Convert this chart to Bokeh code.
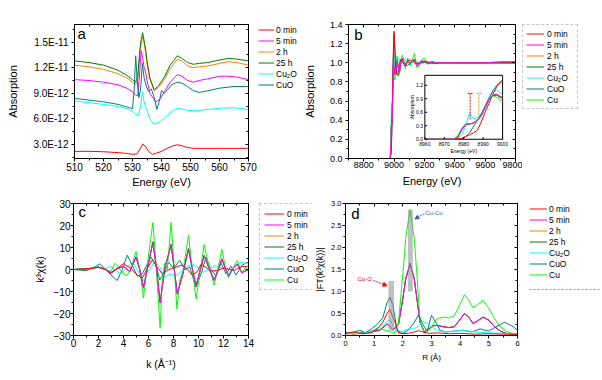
import math
from bokeh.plotting import figure
from bokeh.layouts import row, column
from bokeh.models import (LinearAxis, FixedTicker, Legend, LegendItem, Range1d,
                          Label, Arrow, NormalHead, PrintfTickFormatter, Span)
from bokeh.embed import file_html
from bokeh.resources import INLINE
from bokeh.core.properties import value

FONT = "Liberation Sans"

C_0MIN = "#FF0000"
C_5MIN = "#FF00FF"
C_2H = "#FF8000"
C_25H = "#008000"
C_CU2O = "#00FFFF"
C_CUO = "#008080"
C_CU = "#00FF00"
COLORS = [C_0MIN, C_5MIN, C_2H, C_25H, C_CU2O, C_CUO, C_CU]

series_names = ["0 min", "5 min", "2 h", "25 h", "Cu\u2082O", "CuO", "Cu"]

# ---------------- panel a : O K-edge (units of 1e-12) ----------------
a_yticks = [3, 6, 9, 12, 15]
a_ylabels = ["3.0E-12", "6.0E-12", "9.0E-12", "1.2E-11", "1.5E-11"]
a_xticks = [510, 520, 530, 540, 550, 560, 570]

a_e_0min = [510, 515, 520, 525, 528, 530, 531.5, 532.5, 533.5, 534.5, 535.5, 536.8, 538, 540, 542, 544, 545.5, 547, 549, 551, 555, 560, 565, 570]
a_v_0min = [2.2, 2.2, 2.15, 2.05, 1.95, 1.85, 1.9, 2.4, 3.05, 2.8, 2.2, 1.85, 1.95, 2.2, 2.55, 2.85, 2.97, 2.85, 2.65, 2.55, 2.55, 2.55, 2.55, 2.55]

a_e_25h = [510, 515, 520, 525, 528, 530, 531, 531.8, 532.5, 533.0, 533.5, 534.0, 534.5, 535, 536, 537.5, 539, 541, 543, 545.5, 547, 549, 551, 553, 556, 560, 563, 566, 570]
a_v_25h = [12.8, 12.6, 12.3, 11.7, 11.1, 10.6, 10.3, 10.9, 14.0, 15.3, 16.1, 15.2, 14.2, 12.8, 10.8, 9.4, 9.9, 10.9, 12.3, 13.4, 13.1, 12.6, 12.4, 12.5, 12.6, 12.9, 13.1, 13.0, 12.8]
a_v_2h = [12.3, 12.1, 11.8, 11.3, 10.8, 10.3, 10.0, 10.6, 13.5, 14.9, 15.6, 14.8, 13.8, 12.4, 10.6, 9.3, 9.7, 10.6, 11.9, 13.0, 12.8, 12.2, 12.0, 12.1, 12.2, 12.5, 12.7, 12.6, 12.3]

a_e_5min = [510, 515, 520, 525, 528, 530, 531, 531.8, 532.5, 533.0, 533.5, 534.0, 534.5, 535, 536, 538, 539.5, 541, 543, 545.5, 547, 549, 551, 553, 556, 560, 563, 566, 570]
a_v_5min = [10.6, 10.5, 10.3, 10.0, 9.6, 9.2, 8.8, 8.7, 11.5, 14.0, 13.2, 12.0, 11.5, 10.5, 9.0, 8.0, 8.3, 9.2, 10.3, 11.2, 11.0, 10.5, 10.3, 10.5, 10.7, 11.0, 11.0, 10.9, 10.6]

a_e_cu2o = [510, 515, 520, 525, 528, 530, 531, 532, 532.8, 533.4, 534, 535, 536, 537, 538, 540, 542, 544, 545.5, 547, 549, 552, 556, 560, 565, 570]
a_v_cu2o = [8.1, 7.9, 7.7, 7.45, 7.2, 6.9, 6.6, 6.35, 7.5, 9.2, 8.0, 7.0, 6.0, 5.5, 5.4, 5.8, 6.4, 7.0, 7.25, 7.15, 7.0, 6.95, 7.1, 7.25, 7.3, 7.1]

a_e_cuo = [510, 515, 520, 525, 528, 530, 530.6, 531.1, 531.6, 532.2, 532.8, 533.4, 534, 534.8, 535.5, 536.5, 537.5, 538.4, 539.2, 540, 541, 542, 543.5, 545.5, 547, 549, 551, 553, 556, 560, 565, 570]
a_v_cuo = [8.4, 8.2, 8.0, 7.7, 7.4, 7.2, 9.5, 13.4, 10.5, 8.5, 9.5, 12.5, 10.8, 9.8, 9.2, 9.5, 8.5, 7.1, 8.0, 9.3, 9.0, 9.4, 10.0, 10.3, 10.2, 9.8, 9.3, 9.1, 9.3, 9.6, 9.8, 9.8]

# ---------------- panel b : Cu K-edge XANES ----------------
b_xticks = [8800, 9000, 9200, 9400, 9600, 9800]
b_yticks = [0.0, 0.2, 0.4, 0.6, 0.8, 1.0, 1.2, 1.4]

b_e_0min = [8700, 8970, 8978, 8983, 8988, 8992, 8996, 9000, 9004, 9010, 9018, 9026, 9035, 9045, 9055, 9070, 9085, 9100, 9120, 9140, 9160, 9180, 9200, 9230, 9260, 9300, 9400, 9500, 9600, 9700, 9800]
b_v_0min = [0.0, 0.0, 0.03, 0.12, 0.45, 0.85, 1.15, 1.33, 1.2, 0.95, 0.88, 0.9, 0.98, 1.04, 1.02, 0.97, 1.0, 1.03, 1.02, 0.99, 1.0, 1.01, 1.02, 1.0, 0.99, 1.0, 1.0, 1.0, 1.0, 1.0, 1.0]

b_e_met = [8700, 8975, 8979, 8981, 8985, 8988, 8991, 8994, 8997, 9000, 9005, 9012, 9020, 9028, 9036, 9045, 9055, 9065, 9075, 9090, 9105, 9120, 9135, 9150, 9165, 9180, 9200, 9220, 9250, 9280, 9320, 9400, 9500, 9600, 9700, 9800]
b_v_5min = [0, 0.0, 0.12, 0.32, 0.36, 0.42, 0.65, 0.92, 1.0, 0.95, 0.88, 0.92, 1.02, 0.95, 0.9, 1.0, 1.05, 1.0, 0.96, 1.03, 0.99, 1.01, 1.04, 0.97, 0.98, 1.02, 1.01, 0.99, 1.01, 1.0, 1.0, 1.0, 1.0, 1.0, 1.01, 1.01]
b_v_2h = [0, 0.0, 0.12, 0.31, 0.36, 0.42, 0.64, 0.91, 0.99, 0.95, 0.88, 0.92, 1.02, 0.96, 0.9, 1.0, 1.05, 1.0, 0.96, 1.03, 0.99, 1.01, 1.04, 0.97, 0.98, 1.02, 1.01, 0.99, 1.01, 1.0, 1.0, 1.0, 1.0, 1.0, 1.0, 1.0]
b_v_25h = [0, 0.0, 0.13, 0.32, 0.36, 0.42, 0.64, 0.91, 0.98, 0.94, 0.87, 0.93, 1.03, 0.95, 0.9, 1.01, 1.05, 1.0, 0.96, 1.03, 0.99, 1.01, 1.04, 0.97, 0.98, 1.02, 1.01, 0.99, 1.01, 1.0, 1.0, 1.0, 1.0, 1.0, 1.0, 1.0]
b_v_cu = [0, 0.0, 0.14, 0.33, 0.36, 0.42, 0.63, 0.9, 0.95, 0.85, 0.82, 0.95, 1.07, 0.95, 0.88, 1.02, 1.08, 1.02, 0.94, 1.05, 0.97, 1.03, 1.1, 0.95, 0.97, 1.03, 1.05, 1.0, 1.01, 1.0, 1.0, 1.0, 1.0, 1.0, 1.01, 1.01]

b_e_cu2o = [8700, 8975, 8980, 8983, 8986, 8990, 8994, 8997, 9000, 9005, 9012, 9020, 9030, 9040, 9050, 9060, 9075, 9090, 9110, 9130, 9150, 9175, 9200, 9250, 9300, 9400, 9500, 9600, 9700, 9800]
b_v_cu2o = [0, 0.0, 0.3, 0.58, 0.45, 0.65, 0.98, 1.1, 1.02, 0.97, 0.95, 1.03, 1.05, 0.98, 0.96, 1.02, 1.04, 0.99, 0.98, 1.01, 1.02, 0.99, 1.0, 1.0, 1.0, 1.0, 1.0, 1.0, 1.0, 1.0]

b_e_cuo = [8700, 8975, 8980, 8984, 8988, 8991, 8995, 9000, 9005, 9010, 9018, 9026, 9035, 9045, 9055, 9070, 9090, 9110, 9130, 9150, 9180, 9220, 9260, 9300, 9400, 9500, 9600, 9700, 9800]
b_v_cuo = [0, 0.0, 0.05, 0.22, 0.5, 0.72, 1.05, 1.3, 1.15, 0.98, 0.88, 0.86, 0.92, 1.02, 1.04, 1.0, 0.97, 1.01, 1.02, 0.99, 1.0, 1.01, 1.0, 1.0, 1.0, 1.0, 1.0, 1.0, 1.0]

# inset of panel b (edge region)
in_xticks = [8960, 8970, 8980, 8990, 9000]
in_yticks = [0.0, 0.3, 0.6, 0.9, 1.2]
in_e = [8960, 8970, 8975, 8977, 8979, 8981, 8983, 8985, 8987, 8989, 8991, 8993, 8995, 8997, 9000]
in_0min = [0, 0, 0, 0.01, 0.02, 0.06, 0.1, 0.14, 0.2, 0.38, 0.6, 0.8, 1.0, 1.17, 1.3]
in_5min = [0, 0, 0, 0.06, 0.22, 0.33, 0.34, 0.36, 0.42, 0.52, 0.7, 0.88, 0.98, 1.0, 0.92]
in_2h = [0, 0, 0, 0.05, 0.21, 0.33, 0.34, 0.36, 0.42, 0.52, 0.7, 0.88, 0.98, 0.99, 0.91]
in_25h = [0, 0, 0, 0.05, 0.21, 0.32, 0.34, 0.36, 0.42, 0.53, 0.7, 0.88, 0.97, 0.98, 0.9]
in_cu2o = [0, 0, 0, 0.02, 0.1, 0.3, 0.58, 0.45, 0.48, 0.56, 0.72, 0.9, 1.05, 1.1, 0.98]
in_cuo = [0, 0, 0, 0.0, 0.02, 0.06, 0.14, 0.28, 0.42, 0.56, 0.74, 0.92, 1.08, 1.2, 1.32]
in_cu = [0, 0, 0, 0.08, 0.25, 0.34, 0.34, 0.36, 0.42, 0.52, 0.7, 0.88, 0.97, 0.93, 0.84]

# ---------------- panel c : k3 chi(k) ----------------
c_xticks = [0, 2, 4, 6, 8, 10, 12, 14]
c_yticks = [-30, -20, -10, 0, 10, 20, 30]

c_k_cu = [0, 0.5, 1.0, 1.5, 2.0, 2.5, 3.0, 3.3, 3.6, 4.0, 4.3, 4.6, 5.0, 5.3, 5.6, 5.9, 6.35, 6.6, 6.93, 7.1, 7.3, 7.5, 7.81, 8.05, 8.27, 8.5, 8.75, 9.2, 9.5, 9.81, 10.1, 10.45, 10.85, 11.25, 11.55, 11.87, 12.15, 12.4, 12.75, 13.1, 13.47, 13.75, 14.0]
c_v_cu = [0, 0.2, 0.3, 0.5, 1.0, 0.0, -1.0, 2.9, 1.0, -2.0, -2.7, 0.5, 8.2, 0.0, -13.0, 2.0, 21.4, 3.0, -26.7, -5.0, 2.9, 0.0, 21.4, 2.0, -18.0, -5.0, -1.0, 15.6, 0.0, -13.4, -2.0, 11.3, 1.0, -7.0, 0.0, 9.2, 1.0, -3.8, 0.5, 4.1, -1.7, 1.0, -0.5]

c_k_met = [0, 0.5, 1.0, 1.5, 2.0, 2.5, 3.0, 3.5, 4.0, 4.5, 5.0, 5.3, 5.6, 5.95, 6.35, 6.65, 6.93, 7.3, 7.81, 8.05, 8.3, 8.75, 9.2, 9.5, 9.81, 10.1, 10.45, 10.85, 11.25, 11.55, 11.87, 12.15, 12.4, 12.75, 13.1, 13.47, 14.0]
c_v_5min = [0, 0.1, 0.2, 0.6, 1.2, 0.2, -1.5, 0.5, 1.5, -1.0, 5.8, 0.0, -8.5, 1.5, 12.7, 0.0, -15.3, 0.5, 11.5, 0.5, -11.3, -2.0, 9.6, 0.5, -7.8, -1.0, 6.4, 0.5, -5.0, -0.5, 4.9, 0.5, -3.0, 0.5, 2.5, -1.5, 0.0]
c_v_2h = [0, 0.1, 0.2, 0.6, 1.1, 0.2, -1.4, 0.5, 1.4, -1.0, 5.5, 0.0, -8.2, 1.5, 12.2, 0.0, -14.8, 0.5, 11.1, 0.5, -10.9, -2.0, 9.3, 0.5, -7.5, -1.0, 6.2, 0.5, -4.8, -0.5, 4.7, 0.5, -2.9, 0.5, 2.4, -1.4, 0.0]
c_v_25h = [0, 0.1, 0.2, 0.6, 1.1, 0.2, -1.4, 0.5, 1.4, -1.0, 5.6, 0.0, -8.3, 1.5, 12.4, 0.0, -15.0, 0.5, 11.3, 0.5, -11.0, -2.0, 9.4, 0.5, -7.6, -1.0, 6.3, 0.5, -4.9, -0.5, 4.8, 0.5, -2.9, 0.5, 2.4, -1.4, 0.0]

c_k_0min = [0, 1.0, 1.5, 2.0, 2.5, 3.0, 3.5, 4.0, 4.6, 5.0, 5.5, 5.9, 6.3, 6.7, 7.1, 7.5, 8.0, 8.7, 9.1, 9.5, 9.9, 10.2, 10.6, 10.9, 11.5, 12.0, 12.5, 12.9, 13.5, 14.0]
c_v_0min = [0, 0.3, 0.6, 1.0, 0.2, -1.8, 0.5, 2.7, 0.5, -2.0, -4.0, 0.5, 4.4, 1.0, -2.0, -0.5, 0.8, 2.0, 0.0, -2.5, -1.0, 2.3, 1.0, -0.7, -0.5, 0.7, 0.0, -0.3, 1.5, 1.2]

c_k_cu2o = [0, 1.0, 1.5, 2.0, 2.5, 3.0, 3.7, 4.2, 4.7, 5.1, 5.6, 6.0, 6.5, 6.9, 7.3, 7.7, 8.2, 8.6, 9.0, 9.5, 9.9, 10.4, 10.9, 11.3, 11.9, 12.4, 12.9, 13.4, 14.0]
c_v_cu2o = [0, 0.2, 0.8, 1.2, 0.3, 1.5, -2.0, 0.5, 3.5, 0.0, -5.0, -1.0, 3.7, 1.0, -3.5, -2.0, -3.0, -1.0, 1.0, 2.6, 1.0, -1.2, 0.5, 1.8, 0.5, -1.5, 1.0, 3.3, 2.5]

c_k_cuo = [0, 1.0, 1.5, 2.1, 2.5, 3.0, 3.5, 3.9, 4.3, 4.7, 5.1, 5.5, 5.9, 6.2, 6.6, 6.9, 7.3, 7.6, 8.0, 8.5, 8.9, 9.3, 9.8, 10.2, 10.6, 11.0, 11.4, 11.8, 12.2, 12.6, 13.0, 13.5, 14.0]
c_v_cuo = [0, -0.5, 0.5, 2.6, 0.5, -2.5, -5.0, 0.0, 6.5, 2.0, -3.0, -2.0, 2.5, 5.6, 2.0, -4.7, -1.0, 3.3, 0.5, 4.1, 0.0, 1.0, -8.0, -2.0, 5.5, 0.0, -3.0, 3.0, -2.0, 1.5, -2.5, 2.0, 3.5]

# ---------------- panel d : |FT| ----------------
d_xticks = [0, 1, 2, 3, 4, 5, 6]
d_yticks = [0.0, 0.5, 1.0, 1.5, 2.0, 2.5, 3.0]

d_r_cu = [0, 0.3, 0.6, 0.9, 1.2, 1.5, 1.7, 1.85, 2.0, 2.1, 2.25, 2.4, 2.5, 2.6, 2.75, 2.9, 3.05, 3.2, 3.4, 3.6, 3.8, 3.95, 4.15, 4.3, 4.45, 4.6, 4.8, 5.0, 5.2, 5.4, 5.6, 5.8, 6.0]
d_v_cu = [0.05, 0.03, 0.06, 0.1, 0.15, 0.1, 0.05, 0.3, 1.4, 2.2, 2.86, 2.2, 1.3, 0.35, 0.05, 0.1, 0.25, 0.38, 0.42, 0.4, 0.45, 0.65, 0.93, 0.8, 0.63, 0.7, 0.8, 0.62, 0.38, 0.2, 0.1, 0.05, 0.02]

d_r_met = [0, 0.3, 0.6, 0.9, 1.2, 1.45, 1.65, 1.85, 2.0, 2.1, 2.25, 2.4, 2.5, 2.6, 2.75, 2.9, 3.05, 3.2, 3.4, 3.6, 3.8, 3.95, 4.15, 4.3, 4.45, 4.6, 4.8, 5.0, 5.2, 5.4, 5.6, 5.8, 6.0]
d_v_5min = [0.05, 0.04, 0.06, 0.08, 0.12, 0.27, 0.13, 0.25, 0.85, 1.3, 1.65, 1.3, 0.8, 0.3, 0.08, 0.15, 0.22, 0.23, 0.2, 0.18, 0.2, 0.33, 0.5, 0.42, 0.28, 0.33, 0.42, 0.35, 0.2, 0.1, 0.05, 0.03, 0.02]
d_v_2h = [0.05, 0.04, 0.06, 0.08, 0.12, 0.26, 0.13, 0.25, 0.83, 1.27, 1.61, 1.27, 0.78, 0.3, 0.08, 0.15, 0.22, 0.23, 0.2, 0.18, 0.2, 0.32, 0.49, 0.41, 0.27, 0.32, 0.41, 0.34, 0.2, 0.1, 0.05, 0.03, 0.02]
d_v_25h = [0.05, 0.04, 0.06, 0.08, 0.12, 0.26, 0.13, 0.25, 0.84, 1.28, 1.62, 1.28, 0.79, 0.3, 0.08, 0.15, 0.22, 0.23, 0.2, 0.18, 0.2, 0.32, 0.5, 0.42, 0.27, 0.33, 0.42, 0.35, 0.2, 0.1, 0.05, 0.03, 0.02]

d_r_0min = [0, 0.3, 0.6, 0.9, 1.1, 1.3, 1.45, 1.55, 1.7, 1.85, 2.0, 2.2, 2.4, 2.55, 2.7, 2.9, 3.2, 3.6, 4.0, 4.5, 5.0, 5.5, 6.0]
d_v_0min = [0.05, 0.08, 0.04, 0.06, 0.15, 0.3, 0.5, 0.59, 0.35, 0.06, 0.04, 0.05, 0.08, 0.11, 0.08, 0.05, 0.06, 0.04, 0.05, 0.03, 0.04, 0.03, 0.03]

d_r_cu2o = [0, 0.3, 0.6, 0.9, 1.2, 1.4, 1.55, 1.7, 1.85, 2.0, 2.2, 2.4, 2.55, 2.7, 2.85, 3.0, 3.2, 3.5, 3.8, 4.1, 4.5, 5.0, 5.5, 6.0]
d_v_cu2o = [0.03, 0.05, 0.04, 0.1, 0.2, 0.3, 0.35, 0.2, 0.05, 0.1, 0.15, 0.15, 0.22, 0.32, 0.28, 0.2, 0.12, 0.08, 0.1, 0.12, 0.08, 0.06, 0.05, 0.04]

d_r_cuo = [0, 0.3, 0.5, 0.7, 0.9, 1.1, 1.3, 1.45, 1.55, 1.65, 1.8, 2.0, 2.2, 2.4, 2.55, 2.7, 2.85, 3.0, 3.15, 3.3, 3.5, 3.8, 4.1, 4.4, 4.7, 5.0, 5.2, 5.4, 5.55, 5.7, 5.85, 6.0]
d_v_cuo = [0.05, 0.08, 0.12, 0.06, 0.15, 0.25, 0.4, 0.75, 0.87, 0.7, 0.12, 0.05, 0.12, 0.3, 0.47, 0.25, 0.1, 0.46, 0.3, 0.12, 0.08, 0.1, 0.12, 0.08, 0.15, 0.1, 0.18, 0.25, 0.3, 0.25, 0.2, 0.12]

# shell markers (Cu-O and Cu-Cu) in panel d
shell_left = [1.5, 2.18]
shell_right = [1.69, 2.35]
shell_bottom = [0.11, 1.0]
shell_top = [1.24, 2.86]

TOP_H, BOT_H = 190, 186
TOP_T, TOP_B = 24, 32      # frame borders shared by the top row
BOT_T, BOT_B = 13, 41      # frame borders shared by the bottom row


def make_panel(width, height, xr, yr, borders, xticks, xminor, yticks, yminor,
               xlabel, ylabel, tick_size, xtitle_size, ytitle_size,
               x_std, y_std, xt_std, yt_std, tick_len=3):
    l, r, t, b = borders
    p = figure(width=width, height=height, x_range=xr, y_range=yr,
               output_backend="svg", toolbar_location=None,
               min_border_left=l, min_border_right=r,
               min_border_top=t, min_border_bottom=b)
    p.xgrid.visible = False
    p.ygrid.visible = False
    p.outline_line_color = "black"
    p.background_fill_color = "white"
    p.border_fill_color = "white"
    xa = p.xaxis[0]
    ya = p.yaxis[0]
    for ax, tk, mn, lab, st, tst, tsz in ((xa, xticks, xminor, xlabel, x_std, xt_std, xtitle_size),
                                          (ya, yticks, yminor, ylabel, y_std, yt_std, ytitle_size)):
        ax.ticker = FixedTicker(ticks=tk, minor_ticks=mn)
        ax.axis_label = lab
        ax.axis_label_text_font = FONT
        ax.axis_label_text_font_size = tsz
        ax.axis_label_text_font_style = "normal"
        ax.axis_label_text_color = "black"
        ax.axis_label_standoff = tst
        ax.major_label_text_font = FONT
        ax.major_label_text_font_size = tick_size
        ax.major_label_text_color = "black"
        ax.major_label_standoff = st
        ax.major_tick_in = 0
        ax.major_tick_out = tick_len
        ax.minor_tick_in = 0
        ax.minor_tick_out = 2
        ax.axis_line_color = "black"
        ax.major_tick_line_color = "black"
        ax.minor_tick_line_color = "black"
    for place, tk, mn in (("above", xticks, xminor), ("right", yticks, yminor)):
        m = LinearAxis(ticker=FixedTicker(ticks=tk, minor_ticks=mn),
                       major_label_overrides={t: "" for t in tk},
                       major_label_text_font_size="1px", major_label_standoff=0,
                       major_tick_in=3, major_tick_out=0, minor_tick_in=2, minor_tick_out=0,
                       axis_line_color="black")
        p.add_layout(m, place)
    return p


def legend_fig(width, height, t, b, names, pad, glyph_w, standoff, label_w, border=False):
    """A blank strip beside a panel that carries that panel's legend."""
    f = figure(width=width, height=height, x_range=Range1d(0, 1),
               y_range=Range1d(0, height - t - b),
               output_backend="svg", toolbar_location=None,
               x_axis_type=None, y_axis_type=None,
               min_border_left=0, min_border_right=0, min_border_top=t, min_border_bottom=b)
    f.xgrid.visible = False
    f.ygrid.visible = False
    f.outline_line_color = None
    f.background_fill_color = "white"
    f.border_fill_color = "white"
    rs = [f.line(x=[math.nan], y=[math.nan], line_color=c, line_width=1) for c in COLORS[:len(names)]]
    leg = Legend(items=[LegendItem(label=n, renderers=[r]) for n, r in zip(names, rs)],
                 location="top_left", orientation="vertical",
                 label_text_font=FONT, label_text_font_size="8.5px",
                 label_text_color="black",
                 glyph_height=11, label_height=11, glyph_width=glyph_w,
                 label_standoff=standoff, label_width=label_w,
                 spacing=0, padding=pad, margin=0,
                 background_fill_color="white", background_fill_alpha=1.0,
                 border_line_color="#909090" if border else None,
                 border_line_dash="1 1", border_line_width=1)
    f.add_layout(leg)
    return f


def panel_letter(p, x, y, t):
    p.add_layout(Label(x=x, y=y, text=t, text_font=FONT, text_font_size="15px",
                       text_baseline="top", text_align="left", text_color="black"))


# ================= panel a =================
pa = make_panel(258, TOP_H, Range1d(510, 570), Range1d(1.36, 17.06), (74, 10, TOP_T, TOP_B),
                a_xticks, [515, 525, 535, 545, 555, 565], a_yticks, [1.5, 4.5, 7.5, 10.5, 13.5, 16.5],
                "Energy (eV)", "Absorption", "10px", "11px", "11px", 1, 3, 2, 11)
pa.yaxis[0].major_label_overrides = {t: s for t, s in zip(a_yticks, a_ylabels)}
pa.line(a_e_0min, a_v_0min, line_color=C_0MIN, line_width=1)
pa.line(a_e_25h, a_v_2h, line_color=C_2H, line_width=1)
pa.line(a_e_25h, a_v_25h, line_color=C_25H, line_width=1)
pa.line(a_e_5min, a_v_5min, line_color=C_5MIN, line_width=1)
pa.line(a_e_cu2o, a_v_cu2o, line_color=C_CU2O, line_width=1)
pa.line(a_e_cuo, a_v_cuo, line_color=C_CUO, line_width=1)
panel_letter(pa, 511.0, 17.0, "a")
la = legend_fig(42, TOP_H, TOP_T, TOP_B, series_names[:6], 2, 16, 2, 20)

# ================= panel b =================
pb = make_panel(222, TOP_H, Range1d(8700, 9800), Range1d(0, 1.4), (43, 7, TOP_T, TOP_B),
                b_xticks, [8700, 8900, 9100, 9300, 9500, 9700], b_yticks,
                [0.1, 0.3, 0.5, 0.7, 0.9, 1.1, 1.3],
                "Energy (eV)", "Absorption", "9px", "11px", "11px", 0, 3, 4, 11)
pb.yaxis[0].formatter = PrintfTickFormatter(format="%.1f")
pb.line(b_e_met, b_v_2h, line_color=C_2H, line_width=1)
pb.line(b_e_met, b_v_25h, line_color=C_25H, line_width=1)
pb.line(b_e_cu2o, b_v_cu2o, line_color=C_CU2O, line_width=1)
pb.line(b_e_cuo, b_v_cuo, line_color=C_CUO, line_width=1)
pb.line(b_e_met, b_v_cu, line_color=C_CU, line_width=1)
pb.line(b_e_0min, b_v_0min, line_color=C_0MIN, line_width=1)
pb.line(b_e_met, b_v_5min, line_color=C_5MIN, line_width=1)
panel_letter(pb, 8738, 1.385, "b")
lb = legend_fig(78, TOP_H, TOP_T, TOP_B, series_names, 3, 18, 3, 27, border=True)

# inset
ins = pb.subplot(x_source=Range1d(8960, 9000), y_source=Range1d(0, 1.42),
                 x_target=Range1d(9203, 9715), y_target=Range1d(0.201, 0.869))
ins.quad(left=[8960], right=[9000], bottom=[0], top=[1.42],
         fill_color="white", line_color="black", line_width=1)
for ys, col in ((in_2h, C_2H), (in_25h, C_25H), (in_cu2o, C_CU2O), (in_cuo, C_CUO),
                (in_cu, C_CU), (in_0min, C_0MIN), (in_5min, C_5MIN)):
    ins.line(in_e, ys, line_color=col, line_width=1)
ins.segment(x0=in_xticks, y0=[0] * len(in_xticks), x1=in_xticks, y1=[0.05] * len(in_xticks),
            line_color="black", line_width=1)
ins.segment(x0=[8960] * len(in_yticks), y0=in_yticks, x1=[8961.2] * len(in_yticks), y1=in_yticks,
            line_color="black", line_width=1)
ins.text(x=in_xticks, y=[-0.05] * len(in_xticks), text=[str(t) for t in in_xticks],
         text_font=value(FONT), text_font_size="5px", text_align="center", text_baseline="top",
         text_color="black")
ins.text(x=[8959] * len(in_yticks), y=in_yticks, text=["%.1f" % t for t in in_yticks],
         text_font=value(FONT), text_font_size="5px", text_align="right", text_baseline="middle",
         text_color="black")
ins.text(x=[8980], y=[-0.2], text=["Energy (eV)"], text_font=value(FONT), text_font_size="5px",
         text_align="center", text_baseline="top", text_color="black")
ins.text(x=[8953.5], y=[0.71], text=["Absorption"], text_font=value(FONT), text_font_size="5px",
         text_align="center", text_baseline="middle", angle=math.pi / 2, text_color="black")
ins.segment(x0=[8983.3, 8987.8], y0=[0.44, 0.48], x1=[8983.3, 8987.8], y1=[1.02, 1.02],
            line_color=[C_0MIN, "#C0A000"], line_dash="2 1", line_width=1)
ins.segment(x0=[8982, 8986.5], y0=[1.02, 1.02], x1=[8985, 8989.5], y1=[1.02, 1.02],
            line_color=[C_0MIN, "#C0A000"], line_dash="2 1", line_width=1)

# ================= panel c =================
pc = make_panel(259, BOT_H, Range1d(0, 14), Range1d(-30, 30), (73, 11, BOT_T, BOT_B),
                c_xticks, [1, 3, 5, 7, 9, 11, 13], c_yticks, [-25, -15, -5, 5, 15, 25],
                "k (\u00c5\u207b\u00b9)", "k\u00b3\u03c7(k)", "10px", "10.5px", "10.5px", 0, 0, 8, 5)
pc.line(c_k_met, c_v_2h, line_color=C_2H, line_width=1)
pc.line(c_k_met, c_v_25h, line_color=C_25H, line_width=1)
pc.line(c_k_cuo, c_v_cuo, line_color=C_CUO, line_width=1)
pc.line(c_k_cu2o, c_v_cu2o, line_color=C_CU2O, line_width=1)
pc.line(c_k_cu, c_v_cu, line_color=C_CU, line_width=1)
pc.line(c_k_met, c_v_5min, line_color=C_5MIN, line_width=1)
pc.line(c_k_0min, c_v_0min, line_color=C_0MIN, line_width=1)
panel_letter(pc, 0.4, 30.2, "c")
lc = legend_fig(53, BOT_H, BOT_T, BOT_B, series_names, 4, 20, 3, 19, border=True)

# ================= panel d =================
pd_ = make_panel(217, BOT_H, Range1d(0, 6), Range1d(0, 3.0), (29, 12, BOT_T, BOT_B),
                 d_xticks, [0.5, 1.5, 2.5, 3.5, 4.5, 5.5], d_yticks,
                 [0.25, 0.75, 1.25, 1.75, 2.25, 2.75],
                 "R (\u00c5)", "|FT(k\u00b3\u03c7(k))|", "7.5px", "8px", "9px", 2, 1, 4, 3)
pd_.yaxis[0].formatter = PrintfTickFormatter(format="%.1f")
pd_.line(d_r_met, d_v_2h, line_color=C_2H, line_width=1)
pd_.line(d_r_met, d_v_25h, line_color=C_25H, line_width=1)
pd_.line(d_r_met, d_v_5min, line_color=C_5MIN, line_width=1)
pd_.line(d_r_cu, d_v_cu, line_color=C_CU, line_width=1)
pd_.line(d_r_cuo, d_v_cuo, line_color=C_CUO, line_width=1)
pd_.line(d_r_cu2o, d_v_cu2o, line_color=C_CU2O, line_width=1)
pd_.line(d_r_0min, d_v_0min, line_color=C_0MIN, line_width=1)
pd_.quad(left=shell_left, right=shell_right, bottom=shell_bottom, top=shell_top,
         fill_color="#8c8c8c", fill_alpha=0.55, line_color=None)
pd_.add_layout(Arrow(end=NormalHead(size=4, line_color=C_0MIN, fill_color=C_0MIN),
                     x_start=0.98, y_start=1.25, x_end=1.45, y_end=1.13,
                     line_color=C_0MIN, line_dash="2 1", line_width=1))
pd_.add_layout(Arrow(end=NormalHead(size=4, line_color="#3a5fa8", fill_color="#3a5fa8"),
                     x_start=2.75, y_start=2.77, x_end=2.42, y_end=2.65,
                     line_color="#3a5fa8", line_dash="2 1", line_width=1))
pd_.add_layout(Label(x=0.42, y=1.29, text="Cu-O", text_font=FONT, text_font_size="6px",
                     text_color=C_0MIN, text_baseline="middle"))
pd_.add_layout(Label(x=2.78, y=2.78, text="Cu-Cu", text_font=FONT, text_font_size="6px",
                     text_color="#3a5fa8", text_baseline="middle"))
panel_letter(pd_, 0.2, 2.96, "d")
ld = legend_fig(71, BOT_H, BOT_T, BOT_B, series_names, 2, 18, 2, 27)
ld.add_layout(Span(location=46, dimension="width", line_color="#909090",
                   line_dash="2 2", line_width=1))

layout = column(row(pa, la, pb, lb), row(pc, lc, pd_, ld))
open("out.html", "w").write(file_html(layout, INLINE))
